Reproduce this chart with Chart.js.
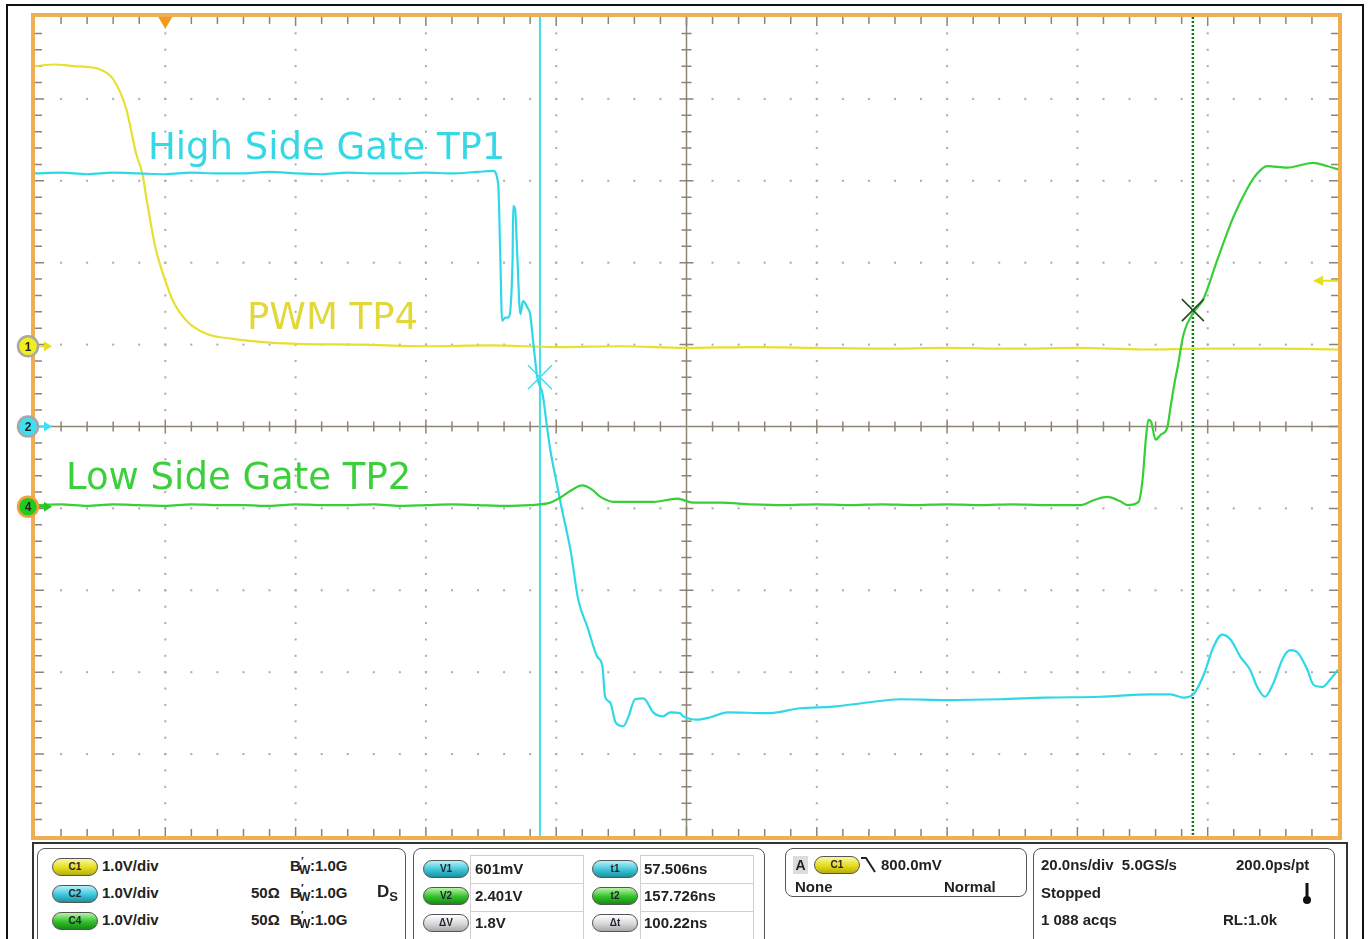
<!DOCTYPE html>
<html>
<head>
<meta charset="utf-8">
<script src="https://cdn.jsdelivr.net/npm/chart.js"></script>
<style>
  html, body { margin: 0; padding: 0; background: #fff; }
  body { width: 1370px; height: 939px; position: relative; overflow: hidden; font-family: "Liberation Sans", Arial, sans-serif; }
  #scope { position: absolute; left: 0; top: 0; }
  .abs { position: absolute; }
  .outer { border: 2px solid #111; }
  .pframe { border-top: 2px solid #333; border-left: 2px solid #333; border-right: 2px solid #333; }
  .box { border: 1.5px solid #555; border-radius: 8px; background: #fff; }
  .cell { border: 1px solid #cfcfcf; background: #fff; }
  .t { position: absolute; font-weight: bold; font-size: 15px; line-height: 18px; color: #222; white-space: pre; }
  .pill { position: absolute; width: 44px; height: 16px; border-radius: 9px; border: 1px solid #555;
          font: bold 10px "Liberation Sans", Arial, sans-serif; line-height: 16px; text-align: center; color: #223; }
  .py { background: linear-gradient(#fbf7a0, #e4dc1c 55%, #b5ad10); }
  .pc { background: linear-gradient(#b8f2fa, #3cc6d8 55%, #1c90a0); }
  .pg { background: linear-gradient(#b8f5a8, #30c028 55%, #188a14); }
  .pw { background: linear-gradient(#ffffff, #d8d8d8 55%, #a8a8a8); }
  .bw { position: relative; display: inline-block; width: 20px; }
  .bw .pr { position: absolute; left: 11px; top: -5px; font-size: 11px; }
  .bw .sb { position: absolute; left: 9px; top: 4px; font-size: 12px; }
</style>
</head>
<body>
<canvas id="scope" width="1370" height="939"></canvas>

<div class="abs outer" style="left:6px;top:4px;width:1354px;height:960px;"></div>
<div class="abs pframe" style="left:32px;top:842px;width:1312px;height:120px;"></div>

<!-- channel box -->
<div class="abs box" style="left:37px;top:848px;width:367px;height:110px;"></div>
<div class="pill py" style="left:52px;top:858px;">C1</div>
<div class="pill pc" style="left:52px;top:885px;">C2</div>
<div class="pill pg" style="left:52px;top:912px;">C4</div>
<div class="t" style="left:102px;top:857px;">1.0V/div</div>
<div class="t" style="left:102px;top:884px;">1.0V/div</div>
<div class="t" style="left:102px;top:911px;">1.0V/div</div>
<div class="t" style="left:251px;top:884px;">50Ω</div>
<div class="t" style="left:251px;top:911px;">50Ω</div>
<div class="t" style="left:290px;top:857px;"><span class="bw">B<span class="pr">′</span><span class="sb">W</span></span>:1.0G</div>
<div class="t" style="left:290px;top:884px;"><span class="bw">B<span class="pr">′</span><span class="sb">W</span></span>:1.0G</div>
<div class="t" style="left:290px;top:911px;"><span class="bw">B<span class="pr">′</span><span class="sb">W</span></span>:1.0G</div>
<div class="t" style="left:377px;top:883px;font-size:17px;">D<span style="font-size:13px;position:relative;top:4px;">S</span></div>

<!-- cursor box -->
<div class="abs box" style="left:413px;top:848px;width:350px;height:110px;"></div>
<div class="abs cell" style="left:470px;top:855px;width:112px;height:27px;"></div>
<div class="abs cell" style="left:470px;top:883px;width:112px;height:27px;"></div>
<div class="abs cell" style="left:470px;top:911px;width:112px;height:27px;"></div>
<div class="abs cell" style="left:640px;top:855px;width:112px;height:27px;"></div>
<div class="abs cell" style="left:640px;top:883px;width:112px;height:27px;"></div>
<div class="abs cell" style="left:640px;top:911px;width:112px;height:27px;"></div>
<div class="pill pc" style="left:423px;top:860px;">V1</div>
<div class="pill pg" style="left:423px;top:887px;">V2</div>
<div class="pill pw" style="left:423px;top:914px;">ΔV</div>
<div class="pill pc" style="left:592px;top:860px;">t1</div>
<div class="pill pg" style="left:592px;top:887px;">t2</div>
<div class="pill pw" style="left:592px;top:914px;">Δt</div>
<div class="t" style="left:475px;top:860px;">601mV</div>
<div class="t" style="left:475px;top:887px;">2.401V</div>
<div class="t" style="left:475px;top:914px;">1.8V</div>
<div class="t" style="left:644px;top:860px;">57.506ns</div>
<div class="t" style="left:644px;top:887px;">157.726ns</div>
<div class="t" style="left:644px;top:914px;">100.22ns</div>

<!-- trigger box -->
<div class="abs box" style="left:785px;top:848px;width:240px;height:47px;"></div>
<div class="t" style="left:793px;top:856px;width:15px;height:18px;background:#dcdcdc;text-align:center;font-size:14px;">A</div>
<div class="pill py" style="left:814px;top:856px;">C1</div>
<svg class="abs" style="left:860px;top:855px;" width="20" height="20"><path d="M1 3 H6 L15 17" stroke="#222" stroke-width="2" fill="none"/></svg>
<div class="t" style="left:881px;top:856px;">800.0mV</div>
<div class="t" style="left:795px;top:878px;">None</div>
<div class="t" style="left:944px;top:878px;">Normal</div>

<!-- timebase box -->
<div class="abs box" style="left:1033px;top:848px;width:300px;height:110px;"></div>
<div class="t" style="left:1041px;top:856px;">20.0ns/div  5.0GS/s</div>
<div class="t" style="left:1236px;top:856px;">200.0ps/pt</div>
<div class="t" style="left:1041px;top:884px;">Stopped</div>
<svg class="abs" style="left:1301px;top:882px;" width="12" height="24"><rect x="4.5" y="1" width="3" height="16" fill="#111"/><circle cx="6" cy="18" r="4" fill="#111"/></svg>
<div class="t" style="left:1041px;top:911px;">1 088 acqs</div>
<div class="t" style="left:1223px;top:911px;">RL:1.0k</div>

<script>
// channel settings (1 V/div on every channel, offsets in divisions)
const ch1Offset = 0.98;
const ch2Offset = 0;
const ch4Offset = -0.98;

// time base: 20 ns/div, trigger at 0 ns
const timeMin = -20;
const timeMax = 180;
const timeDiv = 20;
const voltMin = -5;
const voltMax = 5;

// cursors and trigger
const cursorT1 = 57.506;
const cursorT2 = 157.726;
const cursorV1 = 0.601;
const cursorV2 = 2.401;
const triggerLevel = 0.8;

// C1 - PWM TP4
const pwmTime = [-20, -17, -14, -12, -10, -8, -6, -4.5, -3.5, -2.8, -1.5, 0, 1.2, 3.4, 6.4, 10.4, 15, 20, 30, 40, 50, 60, 70, 80, 90, 100, 110, 120, 130, 140, 150, 160, 170, 180];
const pwmVolts = [3.42, 3.44, 3.42, 3.41, 3.38, 3.26, 2.9, 2.36, 2.1, 1.76, 1.2, 0.8, 0.55, 0.3, 0.15, 0.09, 0.05, 0.03, 0.02, 0.0, 0.01, -0.01, 0.0, -0.02, -0.01, -0.02, -0.03, -0.02, -0.03, -0.02, -0.04, -0.03, -0.03, -0.04];

// C2 - High Side Gate TP1
const hsTime = [-20, -16, -12, -8, -4, 0, 4, 8, 12, 16, 20, 24, 28, 32, 36, 40, 44, 48, 50.3, 51.1, 51.4, 51.7, 52.2, 52.6, 53.3, 53.4, 53.7, 54.0, 54.5, 54.9, 55.6, 56.0, 56.5, 57.1, 57.9, 58.6, 59.1, 60.0, 60.9, 62.2, 63.4, 64.8, 66.3, 67.1, 67.5, 68.3, 69.1, 70.3, 71.1, 72.1, 73.4, 74.9, 76.4, 77.5, 79.0, 79.5, 81.7, 83.7, 86.3, 92.4, 97.5, 102.5, 107.8, 112.8, 120, 128.2, 135, 143.5, 151.2, 154.3, 156.3, 157.8, 159.3, 160.9, 162.2, 163.5, 165.0, 166.5, 167.6, 168.8, 170.1, 171.6, 172.7, 173.8, 175.3, 176.2, 177.6, 178.8, 180];
const hsVolts = [3.09, 3.10, 3.08, 3.10, 3.09, 3.08, 3.10, 3.09, 3.09, 3.11, 3.09, 3.08, 3.10, 3.09, 3.09, 3.10, 3.09, 3.11, 3.12, 2.96, 2.14, 1.29, 1.33, 1.33, 2.02, 2.69, 2.65, 2.14, 1.37, 1.53, 1.45, 1.37, 1.01, 0.60, 0.40, -0.01, -0.29, -0.66, -1.02, -1.51, -2.12, -2.45, -2.81, -2.93, -3.30, -3.37, -3.61, -3.66, -3.54, -3.33, -3.32, -3.49, -3.54, -3.49, -3.50, -3.54, -3.58, -3.55, -3.49, -3.50, -3.44, -3.42, -3.37, -3.33, -3.34, -3.33, -3.31, -3.30, -3.27, -3.27, -3.31, -3.27, -3.05, -2.69, -2.54, -2.60, -2.81, -2.97, -3.18, -3.30, -3.13, -2.82, -2.73, -2.76, -2.97, -3.15, -3.18, -3.09, -2.97];

// C4 - Low Side Gate TP2
const lsTime = [-20, -16, -12, -8, -4, 0, 4, 8, 12, 16, 20, 24, 28, 32, 36, 40, 44, 48, 52, 56, 59.1, 60.6, 62.5, 64.0, 65.5, 66.8, 68.8, 72, 74.9, 78.6, 81.0, 85.2, 90, 95, 100, 105, 110, 115, 120, 125, 130, 135, 140.4, 142.5, 144.6, 146.5, 147.7, 149.4, 150.0, 150.5, 150.9, 151.3, 152.0, 152.8, 153.8, 154.3, 155.0, 155.4, 156.3, 157.8, 159.3, 161.5, 163.9, 166.1, 167.6, 169.1, 172.2, 176.2, 178.3, 180];
const lsVolts = [0.02, 0.03, 0.01, 0.03, 0.02, 0.01, 0.03, 0.02, 0.02, 0.01, 0.03, 0.02, 0.02, 0.03, 0.01, 0.02, 0.03, 0.02, 0.01, 0.02, 0.05, 0.11, 0.21, 0.26, 0.21, 0.12, 0.06, 0.06, 0.06, 0.10, 0.05, 0.05, 0.03, 0.02, 0.03, 0.02, 0.03, 0.02, 0.03, 0.02, 0.03, 0.02, 0.02, 0.08, 0.12, 0.07, 0.02, 0.06, 0.33, 0.82, 1.06, 1.04, 0.82, 0.88, 0.97, 1.22, 1.55, 1.71, 2.11, 2.37, 2.53, 3.02, 3.53, 3.89, 4.07, 4.16, 4.14, 4.20, 4.16, 4.12];

const yellow = "#e6e030";
const cyan = "#2fd8e6";
const green = "#36cf36";

function toPoints(times, volts, offset) {
    return times.map((t, i) => ({ x: t, y: volts[i] + offset }));
}

const traceLabels = [
    { text: "High Side Gate TP1", color: "#36d8e6", x: 148, y: 159 },
    { text: "PWM TP4", color: "#e2d83c", x: 247, y: 329 },
    { text: "Low Side Gate TP2", color: "#3ccf3c", x: 66, y: 489 },
];

function drawX(ctx, px, py, size, color) {
    ctx.strokeStyle = color;
    ctx.lineWidth = 1.5;
    ctx.beginPath();
    ctx.moveTo(px - size, py + size);
    ctx.lineTo(px + size, py - size);
    ctx.moveTo(px - size, py - size);
    ctx.lineTo(px + size, py + size);
    ctx.stroke();
}

const scopeDecor = {
    id: "scopeDecor",
    beforeDraw(chart) {
        const ctx = chart.ctx;
        ctx.save();
        ctx.fillStyle = "#fff";
        ctx.fillRect(0, 0, chart.width, chart.height);
        ctx.restore();
    },
    beforeDatasetsDraw(chart) {
        const { ctx, chartArea: a, scales: { x, y } } = chart;
        ctx.save();

        // dotted graticule
        ctx.fillStyle = "#ababab";
        for (let k = 1; k < 10; k++) {
            if (k === 5) continue;
            const gx = x.getPixelForValue(timeMin + k * timeDiv);
            for (let m = 1; m < 50; m++) {
                const py = y.getPixelForValue(voltMin + m * 0.2);
                ctx.fillRect(gx - 1, py - 1, 2, 2);
            }
            const gy = y.getPixelForValue(voltMin + k);
            for (let m = 1; m < 50; m++) {
                const px = x.getPixelForValue(timeMin + m * timeDiv / 5);
                ctx.fillRect(px - 1, gy - 1, 2, 2);
            }
        }

        // centre axes with ticks
        const cx = x.getPixelForValue((timeMin + timeMax) / 2);
        const cy = y.getPixelForValue(0);
        ctx.strokeStyle = "#8c8474";
        ctx.lineWidth = 1.5;
        ctx.beginPath();
        ctx.moveTo(a.left, cy);
        ctx.lineTo(a.right, cy);
        ctx.moveTo(cx, a.top);
        ctx.lineTo(cx, a.bottom);
        for (let m = 1; m < 50; m++) {
            const px = x.getPixelForValue(timeMin + m * timeDiv / 5);
            const len = m % 5 === 0 ? 7 : 5;
            ctx.moveTo(px, cy - len);
            ctx.lineTo(px, cy + len);
            const py = y.getPixelForValue(voltMin + m * 0.2);
            ctx.moveTo(cx - len, py);
            ctx.lineTo(cx + len, py);
        }
        ctx.stroke();

        // ticks on the frame
        ctx.strokeStyle = "#858585";
        ctx.lineWidth = 1.5;
        ctx.beginPath();
        for (let m = 1; m < 50; m++) {
            const px = x.getPixelForValue(timeMin + m * timeDiv / 5);
            const len = m % 5 === 0 ? 9 : 7;
            ctx.moveTo(px, a.top);
            ctx.lineTo(px, a.top + len);
            ctx.moveTo(px, a.bottom);
            ctx.lineTo(px, a.bottom - len);
            const py = y.getPixelForValue(voltMin + m * 0.2);
            ctx.moveTo(a.left, py);
            ctx.lineTo(a.left + len, py);
            ctx.moveTo(a.right, py);
            ctx.lineTo(a.right - len, py);
        }
        ctx.stroke();

        // cursors
        const c1x = x.getPixelForValue(cursorT1);
        ctx.strokeStyle = "#3ee0ee";
        ctx.lineWidth = 2;
        ctx.beginPath();
        ctx.moveTo(c1x, a.top);
        ctx.lineTo(c1x, a.bottom);
        ctx.stroke();

        const c2x = x.getPixelForValue(cursorT2);
        ctx.strokeStyle = "#137a13";
        ctx.lineWidth = 2.5;
        ctx.setLineDash([2, 2]);
        ctx.beginPath();
        ctx.moveTo(c2x, a.top);
        ctx.lineTo(c2x, a.bottom);
        ctx.stroke();
        ctx.setLineDash([]);
        ctx.restore();
    },
    afterDatasetsDraw(chart) {
        const { ctx, chartArea: a, scales: { x, y } } = chart;
        ctx.save();

        // cursor crosses
        drawX(ctx, x.getPixelForValue(cursorT1), y.getPixelForValue(cursorV1 + ch2Offset), 12, "#3ee0ee");
        drawX(ctx, x.getPixelForValue(cursorT2), y.getPixelForValue(cursorV2 + ch4Offset), 11, "#1d4a1d");

        // trace labels
        ctx.font = '37px "DejaVu Sans"';
        ctx.textBaseline = "alphabetic";
        traceLabels.forEach(l => {
            ctx.fillStyle = l.color;
            ctx.fillText(l.text, l.x, l.y);
        });

        // orange frame
        ctx.strokeStyle = "#f1ad52";
        ctx.lineWidth = 4;
        ctx.strokeRect(a.left - 2, a.top - 2, a.right - a.left + 4, a.bottom - a.top + 4);

        // trigger position marker
        const tx = x.getPixelForValue(0);
        ctx.fillStyle = "#f39a1c";
        ctx.beginPath();
        ctx.moveTo(tx - 7, a.top);
        ctx.lineTo(tx + 7, a.top);
        ctx.lineTo(tx, a.top + 12);
        ctx.closePath();
        ctx.fill();

        // trigger level arrow on the right
        const ty = y.getPixelForValue(triggerLevel + ch1Offset);
        ctx.strokeStyle = "#e8de20";
        ctx.fillStyle = "#e8de20";
        ctx.lineWidth = 2;
        ctx.beginPath();
        ctx.moveTo(a.right, ty);
        ctx.lineTo(a.right - 18, ty);
        ctx.stroke();
        ctx.beginPath();
        ctx.moveTo(a.right - 25, ty);
        ctx.lineTo(a.right - 15, ty - 5);
        ctx.lineTo(a.right - 15, ty + 5);
        ctx.closePath();
        ctx.fill();

        // channel ground markers on the left
        const markers = [
            { n: "1", off: ch1Offset, fill: "#f4ee1c", ring: "#a8a8a8", arrow: "#e8de20" },
            { n: "2", off: ch2Offset, fill: "#3ee0f0", ring: "#a8a8a8", arrow: "#3ee0f0" },
            { n: "4", off: ch4Offset, fill: "#1ecb1e", ring: "#f0a040", arrow: "#22c822" },
        ];
        markers.forEach(mk => {
            const my = y.getPixelForValue(mk.off);
            ctx.strokeStyle = mk.arrow;
            ctx.fillStyle = mk.arrow;
            ctx.lineWidth = 2;
            ctx.beginPath();
            ctx.moveTo(a.left, my);
            ctx.lineTo(a.left + 10, my);
            ctx.stroke();
            ctx.beginPath();
            ctx.moveTo(a.left + 17, my);
            ctx.lineTo(a.left + 9, my - 5);
            ctx.lineTo(a.left + 9, my + 5);
            ctx.closePath();
            ctx.fill();

            ctx.beginPath();
            ctx.arc(a.left - 7, my, 10, 0, Math.PI * 2);
            ctx.fillStyle = mk.fill;
            ctx.fill();
            ctx.lineWidth = 2.5;
            ctx.strokeStyle = mk.ring;
            ctx.stroke();
            ctx.fillStyle = "#222";
            ctx.font = 'bold 12px "Liberation Sans"';
            ctx.textAlign = "center";
            ctx.textBaseline = "middle";
            ctx.fillText(mk.n, a.left - 7, my + 1);
        });
        ctx.restore();
    },
};

const ctx = document.getElementById("scope").getContext("2d");

new Chart(ctx, {
    type: "line",
    data: {
        datasets: [
            {
                label: "Low Side Gate TP2",
                data: toPoints(lsTime, lsVolts, ch4Offset),
                borderColor: green,
            },
            {
                label: "High Side Gate TP1",
                data: toPoints(hsTime, hsVolts, ch2Offset),
                borderColor: cyan,
            },
            {
                label: "PWM TP4",
                data: toPoints(pwmTime, pwmVolts, ch1Offset),
                borderColor: yellow,
            },
        ],
    },
    options: {
        responsive: false,
        animation: false,
        layout: { padding: { left: 35, top: 17, right: 32, bottom: 103 } },
        elements: {
            point: { radius: 0 },
            line: { borderWidth: 2.2, cubicInterpolationMode: "monotone" },
        },
        scales: {
            x: { type: "linear", min: timeMin, max: timeMax, display: false },
            y: { type: "linear", min: voltMin, max: voltMax, display: false },
        },
        plugins: {
            legend: { display: false },
            tooltip: { enabled: false },
        },
    },
    plugins: [scopeDecor],
});
</script>
</body>
</html>
